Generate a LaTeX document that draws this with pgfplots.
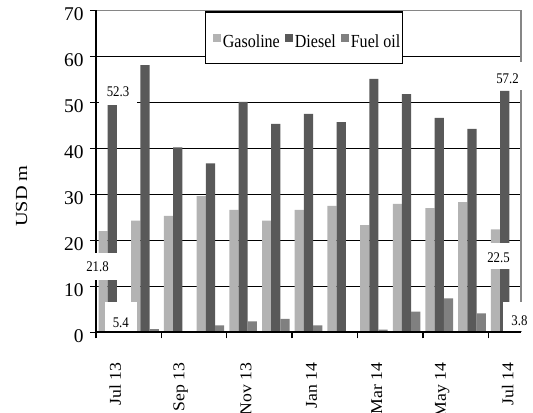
\documentclass[border=0pt]{standalone}
\usepackage{pgfplots}
\usepackage{pgfplotstable}
\pgfplotsset{compat=1.18}
\usepackage{fontspec}
\setmainfont{Liberation Serif}
\newfontfamily\narrowfont{Liberation Serif}[FakeStretch=0.87]
\newfontfamily\widefont{Liberation Serif}[FakeStretch=1.07]
\newfontfamily\ylabfont{Liberation Serif}[FakeStretch=1.2]
\definecolor{gas}{HTML}{B3B3B3}
\definecolor{dsl}{HTML}{595959}
\definecolor{fuel}{HTML}{808080}
\definecolor{bordergray}{HTML}{868686}

\pgfplotstableread{
x gas diesel fuel
0 22.0 49.4 5.4
1 24.3 58.1 0.7
2 25.3 40.2 0
3 29.6 36.7 1.5
4 26.6 50.1 2.4
5 24.3 45.3 2.9
6 26.6 47.5 1.5
7 27.5 45.7 0
8 23.3 55.1 0.6
9 27.9 51.8 4.5
10 27.0 46.6 7.4
11 28.3 44.2 4.1
12 22.4 52.5 3.8
}\datatable

\begin{document}
\begin{tikzpicture}
\begin{axis}[
 at={(0,0)}, anchor=south west,
 scale only axis, width=425bp, height=322bp,
 ybar=0pt, bar width=9.2bp,
 xmin=-0.5, xmax=12.5, ymin=0, ymax=70,
 axis x line*=bottom, axis y line*=left,
 axis line style={draw=none},
 ytick={0,10,...,70},
 ymajorgrids, major grid style={black, line width=1.4bp},
 tick align=outside, major tick length=6bp,
 tick style={black, line width=1.4bp},
 xtick={-0.5,1.5,...,11.5}, xticklabels={,,,,,,},
 extra x ticks={0.09,2.09,4.09,6.09,8.09,10.09,12.09},
 extra x tick labels={Jul 13,Sep 13,Nov 13,Jan 14,Mar 14,May 14,Jul 14},
 extra x tick style={major tick length=0pt},
 xticklabel style={font=\widefont\fontsize{16.6}{18}\selectfont, inner sep=0pt, rotate=90, anchor=east},
 xticklabel shift=30bp,
 yticklabel style={font=\fontsize{19.5}{20}\selectfont, xshift=-3bp, yshift=-3.4bp},
 /pgf/number format/assume math mode=true,
 clip=false,
 legend columns=3,
 legend image code/.code={\path (-5.2bp,14.3bp) (9.8bp,0bp); \fill[#1] (0bp,-0.9bp) rectangle (8bp,7.5bp);},
 legend style={at={(0.2558,0.9966)}, anchor=north west, draw=black, line width=1.3bp,
   inner xsep=2.5bp, inner ysep=15.1bp, font=\narrowfont\fontsize{18.5}{20}\selectfont,
   nodes={inner sep=0pt}, fill=white},
]
\addplot[fill=gas, draw=none] table[x=x,y=gas]{\datatable};
\addplot[fill=dsl, draw=none] table[x=x,y=diesel]{\datatable};
\addplot[fill=fuel, draw=none] table[x=x,y=fuel]{\datatable};
\legend{Gasoline,Diesel,Fuel oil}

\draw[bordergray, line width=1.3bp] (rel axis cs:0,1) -- (rel axis cs:1,1) -- (rel axis cs:1,0);
\draw[black, line width=2bp] (rel axis cs:0,1) -- (rel axis cs:0,0) -- (rel axis cs:1,0);

\fill[white] (axis cs:-0.408,49.55) rectangle (axis cs:0.754,54.41);
\node[font=\narrowfont\fontsize{14.8}{16}\selectfont, inner sep=0pt] at (axis cs:0.173,52.3) {52.3};
\fill[white] (axis cs:-0.928,11.37) rectangle (axis cs:0.234,17.3);
\node[font=\narrowfont\fontsize{14.8}{16}\selectfont, inner sep=0pt] at (axis cs:-0.454,14.26) {21.8};
\fill[white] (axis cs:-0.225,0.3) rectangle (axis cs:0.763,6.65);
\node[font=\narrowfont\fontsize{14.8}{16}\selectfont, inner sep=0pt] at (axis cs:0.259,2.13) {5.4};
\fill[white] (axis cs:11.552,52.57) rectangle (axis cs:12.592,58.76);
\node[font=\narrowfont\fontsize{14.8}{16}\selectfont, inner sep=0pt] at (axis cs:12.088,55.07) {57.2};
\fill[white] (axis cs:11.368,13.76) rectangle (axis cs:12.286,19.45);
\node[font=\narrowfont\fontsize{14.8}{16}\selectfont, inner sep=0pt] at (axis cs:11.812,16.15) {22.5};
\fill[white] (axis cs:11.95,0.3) rectangle (axis cs:12.867,6.65);
\node[font=\narrowfont\fontsize{14.8}{16}\selectfont, inner sep=0pt] at (axis cs:12.454,2.57) {3.8};
\end{axis}
\node[rotate=90, font=\ylabfont\fontsize{17}{18}\selectfont] at (-74.5bp,136.3bp) {USD m};
\pgfresetboundingbox
\useasboundingbox (-96bp,-80.7bp) rectangle (437bp,332.3bp);
\end{tikzpicture}
\end{document}
